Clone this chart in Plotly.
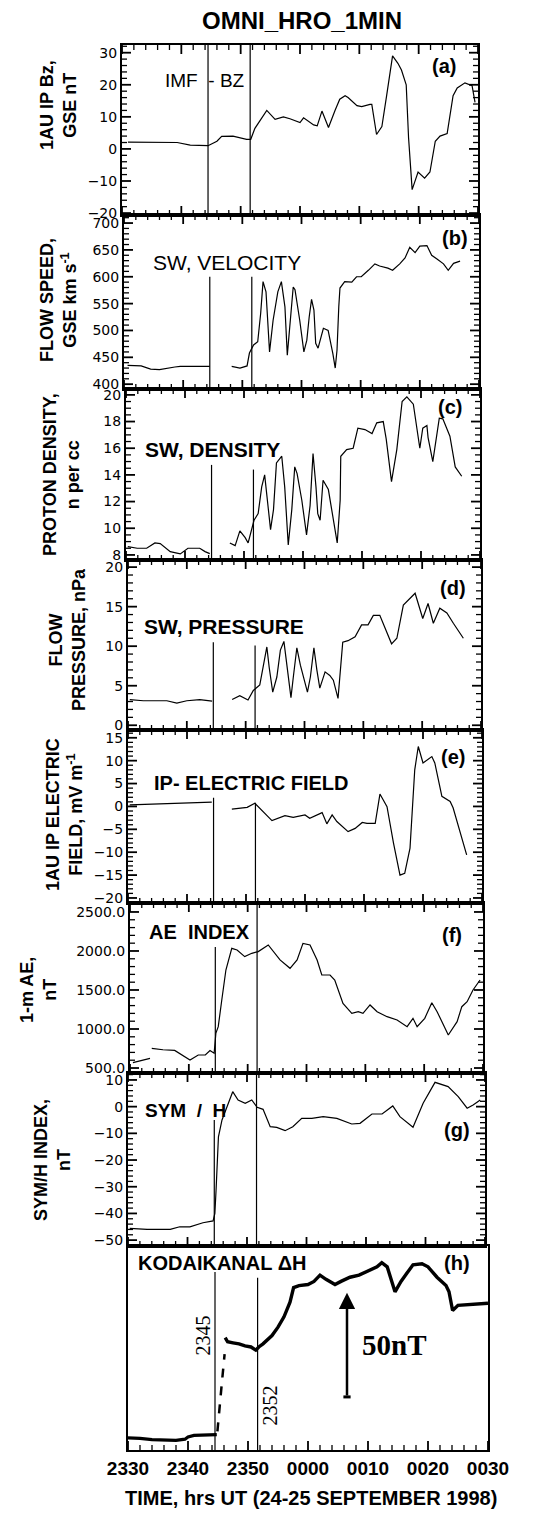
import numpy as np
import plotly.graph_objects as go

W, H = 545, 1517
OFF = 8  # default body margin of the html page

# ---------------- data (minutes after 2330 UT, 24 Sep 1998) ----------------
tick_minutes = [0, 10, 20, 30, 40, 50, 60]
tick_labels = ["2330", "2340", "2350", "0000", "0010", "0020", "0030"]
event_times = [14.5, 21.6]

t_bz = [1, 9.3, 11.5, 14.5, 16, 16.8, 18.7, 21, 21.7, 22.4, 24.4, 25.8, 27.2, 28.3, 30, 30.6, 32.3, 32.9,
        33.7, 34.8, 35.9, 36.7, 37.6, 38.1, 39.6, 40.4, 41.8, 42.1, 42.9, 43.8, 44.6, 45.6, 46.5, 47.1,
        47.9, 48.3, 48.9, 49.9, 51, 51.9, 52.8, 53.6, 54.8, 55.8, 56.5, 57.8, 59, 59.5]
bz = [2.1, 2.0, 1.2, 1.0, 2.4, 3.9, 4.0, 3.0, 3.0, 6.4, 12, 9.2, 10, 9.4, 8.2, 9.7, 7.5, 7.2,
      11.8, 6.7, 12, 15.5, 16.6, 16, 13.5, 13.2, 13.9, 13.9, 4.5, 7, 16.6, 29, 26.7, 24.6,
      20, 3.4, -12.7, -7.2, -9.1, -7.2, 2.4, 4, 4.8, 16.6, 19, 20.6, 19.7, 14.5]

t_v = [0.6, 2.9, 4.5, 6, 8.6, 9.5, 14.5, None, 18.2, 19.6, 20.8, 21.2, 21.9, 22.6, 23.1, 23.5, 24, 24.4, 24.6,
       25.2, 26, 26.6, 27.2, 27.6, 28, 28.6, 28.9, 29.7, 30.4, 30.9, 31.3, 31.7, 32.1, 32.4, 32.8,
       33.2, 33.7, 34.5, 35, 35.3, 35.7, 36, 36.3, 36.5, 37.3, 38.5, 39.3, 40.1, 41.3, 42.4, 43.2,
       44.6, 45.4, 46.6, 47.5, 48.3, 49.2, 50, 51.2, 52, 52.9, 54, 54.8, 55.7, 56.8]
vel = [435, 434, 428, 427, 432, 433, 433, None, 433, 430, 434, 458, 473, 479, 532, 591, 572, 488, 460,
       519, 572, 591, 544, 454, 507, 581, 576, 519, 460, 482, 525, 558, 538, 476, 467,
       482, 504, 500, 476, 457, 430, 463, 544, 579, 591, 590, 600, 600, 612, 624, 620,
       616, 612, 624, 635, 655, 645, 657, 658, 640, 633, 624, 612, 625, 629]

t_n = [0.3, 1.9, 3.5, 4.9, 5.8, 7.5, 9.2, 10.5, 12.5, 13.4, 14.2, None, 17.6, 18.5, 19.3, 20.2, 20.7, 21.4,
       21.7, 22.4, 23, 23.5, 23.8, 24.5, 25, 25.5, 26.4, 26.9, 27.5, 28.1, 28.6, 29, 29.8, 30.6,
       31.2, 31.7, 32.2, 32.5, 32.9, 33.4, 34.3, 35.1, 35.8, 36.3, 36.4, 37.4, 38.5, 39.3, 40.5,
       41.7, 42.5, 43.6, 44.1, 45, 45.9, 46.8, 47.6, 48.7, 49.8, 50.3, 51, 51.2, 52, 53.1, 53.7,
       54.9, 55.8, 56.9]
dens = [8.62, 8.5, 8.5, 8.9, 8.85, 8.25, 8.08, 8.5, 8.5, 8.25, 8.1, None, 8.9, 8.7, 9.8, 9.3, 8.9, 10.0,
        10.6, 11.1, 13.1, 14.0, 12.9, 9.9, 11.4, 14.9, 15.4, 13.1, 8.75, 11.4, 14.6, 14.1, 12.1, 9.5,
        11.7, 15.6, 13.1, 11.1, 10.6, 13.6, 12.9, 10.6, 8.9, 12.1, 15.4, 15.9, 16.0, 17.5, 17.4,
        17.1, 17.9, 18.0, 16.7, 13.5, 15.9, 19.5, 19.85, 19.3, 16.0, 17.5, 17.7, 16.8, 15.0, 18.25, 18.2,
        16.9, 14.6, 13.9]

t_p = [0.3, 2.6, 6.6, 8.3, 10, 12.2, 14.3, None, 17.7, 19, 20.4, 21.3, 22.4, 23, 23.6, 24, 24.6, 25.3,
       25.9, 26.5, 27, 27.7, 28.1, 28.7, 29.3, 29.9, 30.5, 31, 31.6, 32.1, 32.6, 33.5, 34.3, 34.9,
       35.7, 36.5, 37.4, 38.6, 39.7, 40.8, 41.7, 42.8, 43.9, 44.8, 45.7, 46.8, 48.8, 49.7, 50.1,
       51, 51.9, 53, 54.2, 55.3, 57]
pres = [3.25, 3.1, 3.1, 2.8, 3.1, 3.25, 3.05, None, 3.25, 3.75, 3.2, 4.4, 5.1, 7.6, 9.9, 7.3, 4.2, 6.1,
        9.5, 10.6, 7.3, 3.5, 6.1, 9.8, 7.6, 5.7, 4.2, 6.1, 9.8, 7.0, 4.7, 6.75, 6.3, 5.7,
        3.4, 10.5, 10.7, 11.2, 12.7, 12.7, 13.9, 13.9, 12.0, 10.3, 11.0, 15.2, 16.7, 14.3, 13.5,
        15.4, 12.9, 14.8, 14.2, 12.9, 11.0]

t_e = [0.3, 8.8, 14.2, None, 17.6, 20.2, 21.5, 24.4, 26.6, 28, 30, 30.8, 32.9, 33.7, 34.6, 35.4, 37.3,
       38.5, 39.7, 40.5, 41.9, 42.7, 43.9, 45, 46.1, 46.9, 47.8, 48.6, 49.2, 50, 51.5, 52, 53.2,
       54.6, 55.1, 56.6, 57.4]
efield = [0.34, 0.7, 0.93, None, -0.6, -0.2, 0.7, -3.1, -2.0, -2.4, -1.85, -2.6, -1.35, -3.8, -1.85, -3.3, -5.5,
          -4.8, -3.5, -3.7, -3.7, 2.7, -0.05, -8, -15, -14.6, -9.1, 8, 13.1, 9.5, 10.9, 9.5, 2.2,
          1.1, -0.3, -7, -10.6]

t_ae = [0.5, 3.4, None, 3.7, 5.6, 7.6, 10.2, 11.6, 12.8, 13.6, 14.3, 14.6, 15, 15.6, 16.3, 17.3, 18.2, 19.5,
        20.7, 21.8, 23.5, 25.5, 27.2, 28.4, 29.4, 30.6, 31.8, 32.6, 34, 34.8, 36.2, 37.7, 38.8,
        39.6, 40.8, 42, 43.7, 45.4, 47.1, 48.1, 48.8, 50.1, 51.3, 52.2, 53.2, 54.1, 55.6, 56.4,
        57.3, 58.3, 59.5]
ae = [568, 624, None, 752, 734, 725, 603, 667, 667, 725, 689, 948, 1030, 1372, 1756, 2034, 2013, 1928,
      1970, 1992, 2077, 1885, 1778, 1885, 2098, 2077, 1885, 1692, 1692, 1628, 1329, 1201, 1222,
      1201, 1308, 1222, 1158, 1115, 1030, 1137, 1030, 1137, 1337, 1222, 1073, 923, 1094, 1286,
      1350, 1500, 1628]

t_sym = [0.3, 3.2, 7.1, 8.7, 10.4, 12.6, 14.3, 14.6, 14.8, 15.2, 15.8, 16.6, 17.6, 18.5, 19.7, 20.8,
         21.7, 22.7, 23.9, 25, 26.4, 27.7, 29.2, 30.9, 32.8, 35.1, 37.6, 39, 41, 42.7, 44.5, 45.7,
         47.9, 49.6, 51.6, 53.8, 55.5, 57, 58, 59.2]
symh = [-45.6, -46, -46, -45, -45, -43.5, -42.8, -40, -31.3, -11.3, -5, 0, 5.6, 2.5, 1.25, 2.5,
        -0.25, -1, -7.5, -7.75, -9, -7.5, -4.4, -4.4, -3.75, -4.4, -6.5, -6.25, -2.75, -2.75, 0.25, -3.75,
        -7.75, 1.25, 9.1, 7.5, 3.75, -0.6, 0.6, 2.5]

t_dh_pre = [0, 2, 4, 6, 8, 9.5, 10, 11, 12.5, 14.8]
dh_pre = [5.8, 5.6, 5.0, 4.7, 4.6, 5.2, 6.3, 7.0, 7.2, 7.4]
t_dh_jump = [14.9, 15.3, 15.7, 16.1]
dh_jump = [9, 20, 34, 46]
t_dh_post = [16.2, 16.6, 17.5, 18.5, 19.5, 20.5, 21.3, 21.8, 22.5, 24, 25, 26, 27, 27.6, 28.5, 30, 31,
             32, 33, 34.5, 35.5, 37, 38.5, 40, 41.5, 42.3, 43.2, 44.5, 45.5, 46.5, 47.5, 49, 50, 51.5,
             53, 53.5, 54.1, 55, 57, 59, 60]
dh_post = [54, 52, 51.5, 51, 50, 49.5, 48, 49.5, 51, 55, 59, 64, 71, 78, 79, 79.5, 81,
           84, 82, 79.5, 81, 83, 84, 86, 88, 90, 88, 76, 81, 85, 89, 89.5, 88, 83,
           79, 76, 67, 69.5, 70, 70.5, 70.5]

arrow_time, arrow_base, arrow_len = 36.5, 25.5, 50

# ---------------- layout helpers ----------------
FW, FH = W - 2 * OFF, H - 2 * OFF

def px(x):
    return (x - OFF) / FW

def py(y):
    return 1 - (y - OFF) / FH

# panel rectangles in page pixels: left, right, top, bottom
panels = [
    (122, 478, 45, 215),
    (124, 479, 215, 389),
    (126, 480, 389, 560),
    (128, 481, 560, 730),
    (128, 482, 730, 903),
    (130, 483, 903, 1073),
    (128, 485, 1073, 1246),
    (128, 488, 1246, 1450),
]
yranges = [[-20.6, 32.4], [391, 715], [7.62, 20.44], [-0.6, 20.9], [-21.1, 16.7],
           [436, 2615], [-52.2, 12.6], [0, 98]]
ymajor = [10, 50, 2, 5, 5, 500, 10, None]
yminor = [2, 10, 0.5, 1, 1, 100, 2, None]
ytick0 = [-20, 400, 8, 0, -20, 500, -50, 0]
x_minor_step, x_major_step = 2, 10
# event line extents (data units) per panel: [top of line1, top of line2]
event_tops = [[32.4, 32.4], [600, 600], [14.75, 14.4], [10.5, 10.1], [1.9, 0.8],
              [2050, 2615], [-5, 12.6], [85.5, 82.7]]

MAJ_LEN, MIN_LEN = 9, 5
MAJ_W, MIN_W = 1.8, 1.3

fig = go.Figure()
layout = dict(template="none", width=FW, height=FH, margin=dict(l=0, r=0, t=0, b=0, pad=0),
              paper_bgcolor="white", plot_bgcolor="rgba(0,0,0,0)", showlegend=False)

tickfont = dict(family="DejaVu Sans, Liberation Sans", size=14, color="black")
shapes = []
for i, (l, r, t, b) in enumerate(panels):
    n = "" if i == 0 else str(i + 1)
    last = i == len(panels) - 1
    pw, ph = r - l, b - t
    xa = dict(domain=[px(l), px(r)], anchor="y" + n, range=[0, 60], automargin=False,
              tickmode="array", tickvals=tick_minutes, ticktext=tick_labels,
              showticklabels=last, ticks="", showline=True, linewidth=2, linecolor="black",
              mirror=True, showgrid=False, zeroline=False,
              tickfont=dict(family="Liberation Sans, Arial", size=19, color="black", weight="bold"))
    if last:
        ya = dict(domain=[py(b), py(t)], anchor="x" + n, range=yranges[i], automargin=False,
                  showticklabels=False, ticks="", showline=True, linewidth=2,
                  linecolor="black", mirror=True, showgrid=False, zeroline=False)
    else:
        ya = dict(domain=[py(b), py(t)], anchor="x" + n, range=yranges[i], automargin=False,
                  tickmode="linear", tick0=ytick0[i], dtick=ymajor[i], ticks="",
                  showline=True, linewidth=2, linecolor="black", mirror=True,
                  showgrid=False, zeroline=False, tickfont=tickfont)
        if i == 5:
            ya["tickformat"] = ".1f"
    layout["xaxis" + n] = xa
    layout["yaxis" + n] = ya

    # tick marks drawn as axis-domain referenced segments
    xr, yr = "x" + n, "y" + n
    for xv in np.arange(0, 60 + 1e-9, x_minor_step):
        major = abs(xv / x_major_step - round(xv / x_major_step)) < 1e-6
        L, w = (MAJ_LEN, MAJ_W) if major else (MIN_LEN, MIN_W)
        shapes.append(dict(type="line", xref=xr, yref=yr + " domain", x0=xv, x1=xv,
                           y0=0, y1=L / ph, line=dict(color="black", width=w)))
        if not last:
            shapes.append(dict(type="line", xref=xr, yref=yr + " domain", x0=xv, x1=xv,
                               y0=1, y1=1 - L / ph, line=dict(color="black", width=w)))
    if not last:
        lo, hi = yranges[i]
        k0 = int(np.ceil((lo - ytick0[i]) / yminor[i] - 1e-9))
        k1 = int(np.floor((hi - ytick0[i]) / yminor[i] + 1e-9))
        for k in range(k0, k1 + 1):
            yv = ytick0[i] + k * yminor[i]
            q = (yv - ytick0[i]) / ymajor[i]
            major = abs(q - round(q)) < 1e-6
            L, w = (MAJ_LEN, MAJ_W) if major else (MIN_LEN, MIN_W)
            shapes.append(dict(type="line", xref=xr + " domain", yref=yr, x0=0, x1=L / pw,
                               y0=yv, y1=yv, line=dict(color="black", width=w)))
            shapes.append(dict(type="line", xref=xr + " domain", yref=yr, x0=1, x1=1 - L / pw,
                               y0=yv, y1=yv, line=dict(color="black", width=w)))

series = [(t_bz, bz), (t_v, vel), (t_n, dens), (t_p, pres), (t_e, efield), (t_ae, ae), (t_sym, symh)]
for i, (tx, vy) in enumerate(series):
    n = "" if i == 0 else str(i + 1)
    fig.add_trace(go.Scatter(x=tx, y=vy, mode="lines", connectgaps=False,
                             line=dict(color="black", width=1.2),
                             xaxis="x" + n, yaxis="y" + n))

fig.add_trace(go.Scatter(x=t_dh_pre, y=dh_pre, mode="lines", line=dict(color="black", width=3.2),
                         xaxis="x8", yaxis="y8"))
fig.add_trace(go.Scatter(x=t_dh_jump, y=dh_jump, mode="lines",
                         line=dict(color="black", width=2.5, dash="dash"), xaxis="x8", yaxis="y8"))
fig.add_trace(go.Scatter(x=t_dh_post, y=dh_post, mode="lines", line=dict(color="black", width=3.4),
                         xaxis="x8", yaxis="y8"))

for i in range(len(panels)):
    n = "" if i == 0 else str(i + 1)
    for k, et in enumerate(event_times):
        shapes.append(dict(type="line", xref="x" + n, yref="y" + n, x0=et, x1=et,
                           y0=yranges[i][0], y1=event_tops[i][k],
                           line=dict(color="black", width=1.2)))
shapes.append(dict(type="line", xref="x8", yref="y8", x0=arrow_time - 0.6, x1=arrow_time + 0.6,
                   y0=arrow_base, y1=arrow_base, line=dict(color="black", width=3)))
layout["shapes"] = shapes

ann = []
bold = "Liberation Sans, Arial"
def add_text(text, x, y, size, xanchor="left", family=bold, angle=0, weight="bold"):
    t = f"<b>{text}</b>" if weight == "bold" else text
    ann.append(dict(text=t, x=px(x), y=py(y), xref="paper", yref="paper", showarrow=False,
                    xanchor=xanchor, yanchor="middle", textangle=angle,
                    font=dict(family=family, size=size, color="black")))

add_text("OMNI_HRO_1MIN", 302, 21, 24, xanchor="center")
add_text("IMF  - BZ", 163, 80, 19, weight="normal")
add_text("SW, VELOCITY", 151, 263, 21, weight="normal")
add_text("SW, DENSITY", 143, 450, 21)
add_text("SW, PRESSURE", 142, 627, 21)
add_text("IP- ELECTRIC FIELD", 152, 783, 20)
add_text("AE  INDEX", 147, 932, 20)
add_text("SYM  /  H", 143, 1110, 19)
add_text("KODAIKANAL ΔH", 136, 1263, 20)
for lab, x, y in [("(a)", 444, 66), ("(b)", 455, 238), ("(c)", 450, 407), ("(d)", 453, 588),
                  ("(e)", 453, 757), ("(f)", 452, 935), ("(g)", 457, 1130), ("(h)", 457, 1263)]:
    add_text(lab, x, y, 20, xanchor="center")

ytitles = [("1AU IP Bz,<br>GSE nT", 59, 105), ("FLOW SPEED,<br>GSE km s<sup>-1</sup>", 59, 300),
           ("PROTON DENSITY,<br>n per cc", 61, 475), ("FLOW<br>PRESSURE, nPa", 67, 640),
           ("1AU IP ELECTRIC<br>FIELD, mV m<sup>-1</sup>", 65, 815), ("1-m AE,<br>nT", 39, 990),
           ("SYM/H INDEX,<br>nT", 52, 1160)]
for txt, xc, yc in ytitles:
    add_text(txt, xc, yc, 18, xanchor="center", angle=-90)

add_text("TIME, hrs UT (24-25 SEPTEMBER 1998)", 311, 1498, 20, xanchor="center")

# panel (h) annotations in data coordinates
ann.append(dict(x=arrow_time, y=arrow_base + arrow_len, ax=arrow_time, ay=arrow_base,
                xref="x8", yref="y8", axref="x8", ayref="y8", text="", showarrow=True,
                arrowhead=2, arrowsize=1.3, arrowwidth=2.5, arrowcolor="black"))
ann.append(dict(text="<b>50nT</b>", x=38.7, y=50.5, xref="x8", yref="y8", showarrow=False,
                xanchor="left", yanchor="middle",
                font=dict(family="Liberation Serif, Times New Roman", size=29, color="black")))
ann.append(dict(text="2345", x=12.5, y=55, xref="x8", yref="y8", showarrow=False, textangle=-90,
                font=dict(family="Liberation Serif, Times New Roman", size=20, color="black")))
ann.append(dict(text="2352", x=23.7, y=21.5, xref="x8", yref="y8", showarrow=False, textangle=-90,
                font=dict(family="Liberation Serif, Times New Roman", size=20, color="black")))
layout["annotations"] = ann

fig.update_layout(**layout)
fig.write_html("out.html")
